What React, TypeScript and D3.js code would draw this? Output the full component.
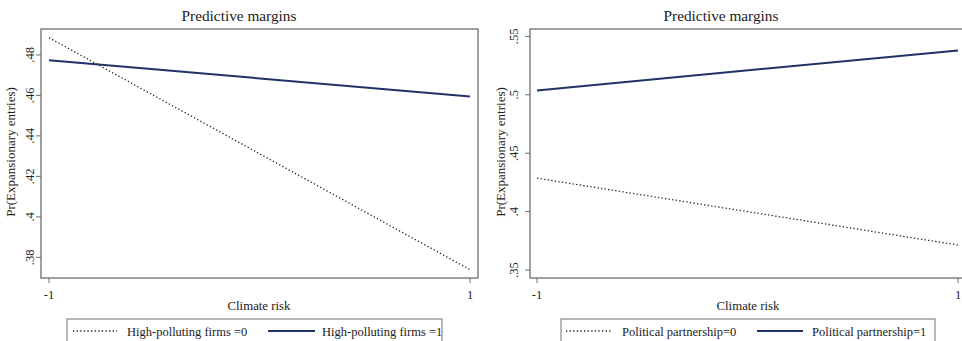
import React from "react";
import * as d3 from "d3";

const xTicks = [-1, 1];
const xValues = [-1, 1];

const leftTitle = "Predictive margins";
const leftYTicks = [0.38, 0.4, 0.42, 0.44, 0.46, 0.48];
const leftYTickLabels = [".38", ".4", ".42", ".44", ".46", ".48"];
const leftSeries0 = [0.4885, 0.3739];
const leftSeries1 = [0.4774, 0.4594];
const leftLegend = ["High-polluting firms =0", "High-polluting firms =1"];

const rightTitle = "Predictive margins";
const rightYTicks = [0.35, 0.4, 0.45, 0.5, 0.55];
const rightYTickLabels = [".35", ".4", ".45", ".5", ".55"];
const rightSeries0 = [0.4286, 0.3714];
const rightSeries1 = [0.5037, 0.538];
const rightLegend = ["Political partnership=0", "Political partnership=1"];

const NAVY = "#1f3265";
const AXIS = "#6e6e6e";
const FONT = '"Liberation Serif", "Times New Roman", serif';
const txt = (size: number): React.CSSProperties => ({ fontFamily: FONT, fontSize: size, fill: "#222" });

type PanelProps = {
  boxL: number;
  boxR: number;
  xAt: [number, number];
  yDomain: [number, number];
  title: string;
  titleX: number;
  yTicks: number[];
  yTickLabels: string[];
  s0: number[];
  s1: number[];
  legend: string[];
  legendBox: [number, number];
  legendPos: number[];
  xTitleX: number;
  yTitleX: number;
  yTickLabelX: number;
};

function Panel(p: PanelProps) {
  const top = 29;
  const bottom = 278;
  const x = d3.scaleLinear().domain([-1, 1]).range(p.xAt);
  const y = d3.scaleLinear().domain(p.yDomain).range([bottom, top]);
  const line = d3
    .line<number>()
    .x((_, i) => x(xValues[i]))
    .y((d) => y(d));
  const ly = 331;
  return (
    <g>
      <text x={p.titleX} y={21} textAnchor="middle" style={txt(15.3)}>
        {p.title}
      </text>
      <rect x={p.boxL} y={top} width={p.boxR - p.boxL} height={bottom - top} fill="none" stroke={AXIS} strokeWidth={1.3} />
      {p.yTicks.map((t, i) => (
        <g key={i}>
          <line x1={p.boxL - 5} x2={p.boxL} y1={y(t)} y2={y(t)} stroke={AXIS} strokeWidth={1} />
          <text
            transform={`translate(${p.yTickLabelX},${y(t)}) rotate(-90)`}
            textAnchor="middle"
            style={txt(12.5)}
          >
            {p.yTickLabels[i]}
          </text>
        </g>
      ))}
      {xTicks.map((t, i) => (
        <g key={i}>
          <line x1={x(t)} x2={x(t)} y1={bottom} y2={bottom + 5} stroke={AXIS} strokeWidth={1} />
          <text x={x(t)} y={bottom + 21} textAnchor="middle" style={txt(12.5)}>
            {String(t)}
          </text>
        </g>
      ))}
      <text x={p.xTitleX} y={310} textAnchor="middle" style={txt(12.8)}>
        Climate risk
      </text>
      <text
        transform={`translate(${p.yTitleX},152) rotate(-90)`}
        textAnchor="middle"
        style={txt(13)}
      >
        Pr(Expansionary entries)
      </text>
      <path d={line(p.s0) || ""} fill="none" stroke="#222" strokeWidth={1.3} strokeDasharray="1.3,2.3" />
      <path d={line(p.s1) || ""} fill="none" stroke={NAVY} strokeWidth={2} />
      <rect
        x={p.legendBox[0]}
        y={319}
        width={p.legendBox[1] - p.legendBox[0]}
        height={30}
        fill="none"
        stroke={AXIS}
        strokeWidth={1}
      />
      <line x1={p.legendPos[0]} x2={p.legendPos[1]} y1={ly} y2={ly} stroke="#222" strokeWidth={1.3} strokeDasharray="1.3,2.3" />
      <text x={p.legendPos[2]} y={ly + 5} style={txt(12.5)}>
        {p.legend[0]}
      </text>
      <line x1={p.legendPos[3]} x2={p.legendPos[4]} y1={ly} y2={ly} stroke={NAVY} strokeWidth={2} />
      <text x={p.legendPos[5]} y={ly + 5} style={txt(12.5)}>
        {p.legend[1]}
      </text>
    </g>
  );
}

export default function App() {
  return (
    <svg
      width={962}
      height={341}
      style={{ position: "absolute", left: 0, top: 0, background: "#fff" }}
    >
      <rect x={0} y={0} width={962} height={341} fill="#fff" />
      <Panel
        boxL={41}
        boxR={478}
        xAt={[49, 470]}
        yDomain={[0.3698, 0.4928]}
        title={leftTitle}
        titleX={239}
        yTicks={leftYTicks}
        yTickLabels={leftYTickLabels}
        s0={leftSeries0}
        s1={leftSeries1}
        legend={leftLegend}
        legendBox={[67, 442]}
        legendPos={[73, 117, 127, 268, 315, 322]}
        xTitleX={259}
        yTitleX={15}
        yTickLabelX={34}
      />
      <Panel
        boxL={530}
        boxR={967}
        xAt={[537, 958]}
        yDomain={[0.3432, 0.5563]}
        title={rightTitle}
        titleX={721}
        yTicks={rightYTicks}
        yTickLabels={rightYTickLabels}
        s0={rightSeries0}
        s1={rightSeries1}
        legend={rightLegend}
        legendBox={[561, 935]}
        legendPos={[566, 612, 622, 757, 803, 812]}
        xTitleX={748}
        yTitleX={505}
        yTickLabelX={518}
      />
    </svg>
  );
}
